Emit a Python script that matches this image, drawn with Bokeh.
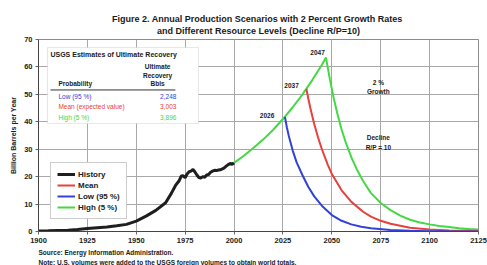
from bokeh.plotting import figure
from bokeh.models import (Label, BoxAnnotation, Legend, LegendItem, FixedTicker,
                          Range1d, Title)
from bokeh.embed import file_html
from bokeh.resources import INLINE

# ---------------- data ----------------
hist_years = [1900, 1905, 1910, 1915, 1920, 1925, 1930, 1935, 1940, 1945, 1950, 1955,
              1960, 1965, 1968, 1970, 1972, 1973, 1974, 1975, 1976, 1977, 1978, 1979,
              1980, 1981, 1982, 1983, 1984, 1985, 1986, 1987, 1988, 1989, 1990, 1991,
              1992, 1993, 1994, 1995, 1996, 1997, 1998, 1999, 2000]
hist_vals = [0.2, 0.25, 0.35, 0.45, 0.7, 1.1, 1.4, 1.65, 2.1, 2.6, 3.8, 5.6,
             7.7, 10.5, 14.0, 16.7, 18.6, 20.2, 20.3, 19.6, 21.0, 21.8, 22.0, 22.6,
             21.7, 20.6, 19.7, 19.5, 20.0, 19.8, 20.6, 20.8, 21.6, 22.0, 22.3, 22.2,
             22.4, 22.5, 22.8, 23.2, 23.8, 24.4, 24.8, 24.5, 25.0]

high_years = [2000, 2005, 2010, 2015, 2020, 2025, 2030, 2035, 2040, 2045, 2047,
              2049, 2051, 2053, 2055, 2057, 2060, 2063, 2066, 2070, 2075, 2080,
              2085, 2090, 2095, 2100, 2105, 2110, 2115, 2120, 2125]
high_vals = [25.0, 27.6, 30.5, 33.6, 37.1, 41.0, 45.3, 50.0, 55.2, 60.9, 63.4,
             55.5, 48.5, 42.5, 37.2, 32.7, 27.0, 22.3, 18.4, 14.0, 10.4, 7.8,
             5.8, 4.3, 3.3, 2.6, 2.0, 1.6, 1.2, 0.9, 0.7]

mean_years = [2037, 2038, 2039, 2041, 2043, 2045, 2048, 2050, 2055, 2060, 2066,
              2070, 2075, 2080, 2090, 2100, 2110, 2125]
mean_vals = [52.0, 48.3, 45.0, 39.2, 34.2, 29.8, 24.2, 21.0, 15.0, 10.8, 7.2,
             5.4, 3.9, 2.8, 1.4, 0.75, 0.4, 0.15]

low_years = [2026, 2027, 2028, 2030, 2032, 2035, 2038, 2041, 2045, 2050, 2055,
             2060, 2065, 2070, 2080, 2090, 2100, 2110, 2125]
low_vals = [41.8, 38.0, 34.8, 29.5, 25.2, 20.5, 16.2, 12.8, 9.3, 6.0, 3.9,
            2.6, 1.7, 1.2, 0.55, 0.25, 0.12, 0.06, 0.03]

peak_labels = ["2026", "2037", "2047"]
x_ticks = [1900, 1925, 1950, 1975, 2000, 2025, 2050, 2075, 2100, 2125]
y_ticks = [0, 10, 20, 30, 40, 50, 60, 70]

table_rows = ["Low (95 %)", "Mean (expected value)", "High (5 %)"]
table_vals = ["2,248", "3,003", "3,896"]

# ---------------- style ----------------
FONT = "Liberation Sans"
C_HIST = "#1e1e1e"
C_MEAN = "#e8403a"
C_LOW = "#3242d6"
C_HIGH = "#45d845"

p = figure(width=487, height=265, output_backend="svg", toolbar_location=None,
           x_range=Range1d(1900, 2125), y_range=Range1d(0, 70),
           min_border_left=38, min_border_right=9, min_border_top=39,
           min_border_bottom=0)
p.title.visible = False
p.background_fill_color = "white"
p.border_fill_color = "white"
p.outline_line_color = "#8c8c8c"

p.xaxis.ticker = FixedTicker(ticks=x_ticks)
p.yaxis.ticker = FixedTicker(ticks=y_ticks)
for ax in (p.xaxis[0], p.yaxis[0]):
    ax.major_label_text_font = FONT
    ax.major_label_text_font_style = "bold"
    ax.major_label_text_font_size = "7.5px"
    ax.major_label_text_color = "#222222"
    ax.axis_line_color = "#444444"
    ax.major_tick_line_color = "#666666"
    ax.major_tick_in = 0
    ax.major_tick_out = 3
    ax.minor_tick_line_color = None
p.xaxis.major_label_standoff = 3
p.yaxis.major_label_standoff = 3
p.yaxis.axis_label = "Billion Barrels per Year"
p.yaxis.axis_label_text_font = FONT
p.yaxis.axis_label_text_font_style = "bold"
p.yaxis.axis_label_text_font_size = "7px"
p.yaxis.axis_label_text_color = "#222222"
p.yaxis.axis_label_standoff = 4
p.xgrid.grid_line_color = "#a8a8a8"
p.ygrid.grid_line_color = "#a8a8a8"
p.xgrid.ticker = FixedTicker(ticks=x_ticks)
p.ygrid.ticker = FixedTicker(ticks=y_ticks)

# titles (closest to frame added first); a tiny blank spacer lifts them a little
spacer = Title(text=" ", text_font=FONT, text_font_size="2px", standoff=0)
t2 = Title(text="and Different Resource Levels (Decline R/P=10)", align="center",
           offset=-25, text_font=FONT, text_font_size="9px", text_font_style="bold",
           text_color="#1a1a1a", standoff=0)
t1 = Title(text="Figure 2.  Annual Production Scenarios with 2 Percent Growth Rates",
           align="center", offset=-18, text_font=FONT, text_font_size="9px",
           text_font_style="bold", text_color="#1a1a1a", standoff=0)
p.add_layout(spacer, "above")
p.add_layout(t2, "above")
p.add_layout(t1, "above")

s1 = Title(text="Source:  Energy Information Administration.", align="left", offset=0,
           text_font=FONT, text_font_size="6.5px", text_font_style="bold",
           text_color="#1a1a1a", standoff=2)
s2 = Title(text="Note:  U.S. volumes were added to the USGS foreign volumes to obtain world totals.",
           align="left", offset=0, text_font=FONT, text_font_size="6.5px",
           text_font_style="bold", text_color="#1a1a1a", standoff=0)
p.add_layout(s1, "below")
p.add_layout(s2, "below")

# table box (under glyphs, above grid)
box = BoxAnnotation(left=1904.6, right=1981.8, bottom=39.4, top=67.1,
                    fill_color="white", fill_alpha=1.0, line_color="#b0b0b0",
                    line_width=1, level="underlay")
p.add_layout(box)

# lines
r_high = p.line(high_years, high_vals, line_color=C_HIGH, line_width=2)
r_mean = p.line(mean_years, mean_vals, line_color=C_MEAN, line_width=2)
r_low = p.line(low_years, low_vals, line_color=C_LOW, line_width=2)
r_hist = p.line(hist_years, hist_vals, line_color=C_HIST, line_width=3)

# underline in table
p.segment(x0=[1906.1], y0=[51.6], x1=[1970.0], y1=[51.6], line_color="#333333",
          line_width=1)


def lab(x, y, text, size="7px", align="center", color="#1a1a1a", bold=True):
    l = Label(x=x, y=y, text=text, text_font=FONT, text_font_size=size,
              text_font_style="bold" if bold else "normal", text_align=align,
              text_baseline="middle", text_color=color)
    p.add_layout(l)


# peak labels
lab(2016.9, 42.4, peak_labels[0], size="6.5px")
lab(2029.4, 53.1, peak_labels[1], size="6.5px")
lab(2042.7, 65.2, peak_labels[2], size="6.5px")

# annotations
lab(2073.8, 54.3, "2 %", size="6.5px")
lab(2073.8, 51.0, "Growth", size="6.5px")
lab(2073.8, 34.3, "Decline", size="6.5px")
lab(2073.8, 30.6, "R/P = 10", size="6.5px")

# table text
lab(1906.1, 64.5, "USGS Estimates of Ultimate Recovery", size="7px", align="left")
lab(1960.9, 60.1, "Ultimate", size="6.5px")
lab(1960.9, 57.0, "Recovery", size="6.5px")
lab(1960.9, 53.8, "Bbls", size="6.5px")
lab(1910.2, 53.8, "Probability", size="6.5px", align="left")
row_y = [49.4, 45.4, 41.6]
row_c = [C_LOW, C_MEAN, C_HIGH]
for t, v, yy, cc in zip(table_rows, table_vals, row_y, row_c):
    lab(1910.2, yy, t, size="6.5px", align="left", color=cc, bold=False)
    lab(1970.5, yy, v, size="6.5px", align="right", color=cc, bold=False)

legend = Legend(items=[LegendItem(label="History", renderers=[r_hist]),
                       LegendItem(label="Mean", renderers=[r_mean]),
                       LegendItem(label="Low (95 %)", renderers=[r_low]),
                       LegendItem(label="High (5 %)", renderers=[r_high])],
                location=(12, 12))
legend.label_text_font = FONT
legend.label_text_font_style = "bold"
legend.label_text_font_size = "8px"
legend.label_text_color = "#222222"
legend.label_height = 10
legend.glyph_height = 10
legend.glyph_width = 18
legend.label_standoff = 3
legend.spacing = 1
legend.padding = 6
legend.margin = 0
legend.border_line_color = "#999999"
legend.background_fill_color = "white"
legend.background_fill_alpha = 1.0
p.add_layout(legend)

open("out.html", "w").write(file_html(p, INLINE))
